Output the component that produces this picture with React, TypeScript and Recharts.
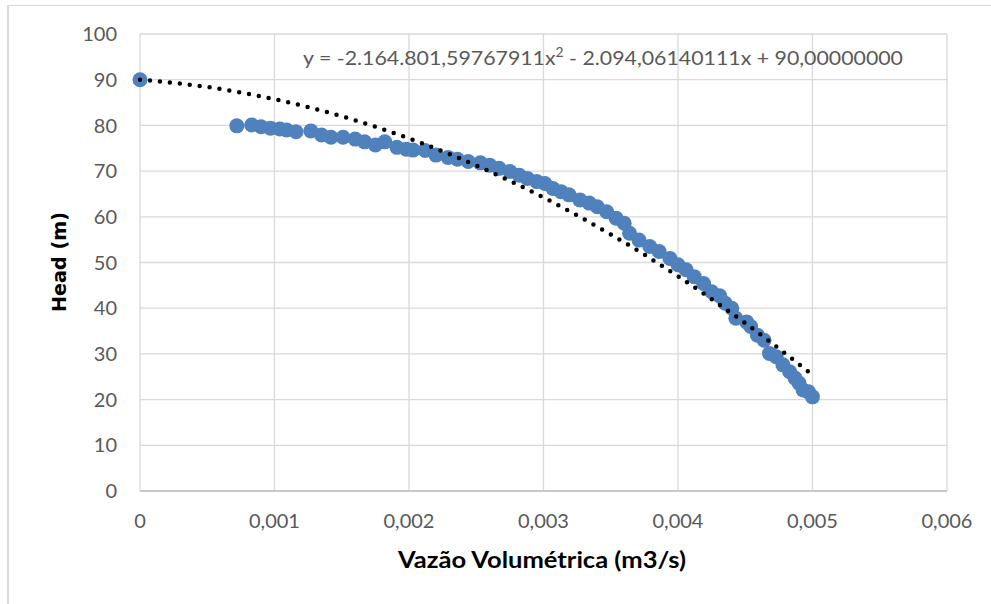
import { ScatterChart, Scatter, XAxis, YAxis, CartesianGrid } from 'recharts';

// measured points: flow (m3/s) and head (m)
const flowRates = [
    0, 0.00072, 0.00083, 0.0009, 0.00097, 0.00104, 0.00109, 0.00116, 0.00127, 0.00135,
    0.00142, 0.00151, 0.0016, 0.00167, 0.00175, 0.00182, 0.00191, 0.00198, 0.00203, 0.00212,
    0.0022, 0.00229, 0.00236, 0.00244, 0.00253, 0.0026, 0.00267, 0.00275, 0.00282, 0.00288,
    0.00295, 0.00301, 0.00307, 0.00313, 0.00319, 0.00327, 0.00334, 0.0034, 0.00347, 0.00354,
    0.0036, 0.00364, 0.00371, 0.00379, 0.00386, 0.00394, 0.004, 0.00406, 0.00412, 0.00419,
    0.00425, 0.00431, 0.00435, 0.0044, 0.00443, 0.00451, 0.00454, 0.00459, 0.00464, 0.00468,
    0.00473, 0.00478, 0.00483, 0.00487, 0.0049, 0.00493, 0.00497, 0.005,
];
const heads = [
    90, 79.9, 80.1, 79.7, 79.4, 79.2, 79.0, 78.6, 78.8, 77.9,
    77.4, 77.4, 77.0, 76.4, 75.7, 76.4, 75.2, 74.8, 74.6, 74.5,
    73.5, 73.0, 72.6, 72.1, 71.8, 71.3, 70.6, 69.9, 69.1, 68.4,
    67.7, 67.3, 66.2, 65.5, 64.8, 63.7, 63.0, 62.2, 61.1, 59.7,
    58.6, 56.4, 54.9, 53.5, 52.4, 50.9, 49.5, 48.4, 46.9, 45.4,
    43.6, 42.7, 41.1, 40.0, 37.8, 37.0, 36.0, 34.1, 33.0, 30.1,
    29.4, 27.6, 26.1, 24.7, 23.6, 22.1, 21.7, 20.6,
];

// polynomial trendline, values
const trendFlow = [0, 0.0005, 0.001, 0.0015, 0.002, 0.0025, 0.003, 0.0035, 0.004, 0.0045, 0.005];
const trendHead = [90, 88.41, 85.74, 81.99, 77.15, 71.23, 64.23, 56.15, 46.99, 36.74, 25.41];

const xTicks = [0, 0.001, 0.002, 0.003, 0.004, 0.005, 0.006];
const yTicks = [0, 10, 20, 30, 40, 50, 60, 70, 80, 90, 100];

const points = flowRates.map((x, i) => ({ x, y: heads[i] }));
const trend = trendFlow.map((x, i) => ({ x, y: trendHead[i] }));

const tickStyle = { fill: '#595959', fontSize: 20, fontFamily: 'Lato, sans-serif' };

export default function App() {
    return (
        <div style={{ position: 'absolute', left: 0, top: 0, width: 991, height: 604, background: '#fff' }}>
            <div
                style={{
                    position: 'absolute', left: 7, top: 5, width: 984, height: 599,
                    borderLeft: '2px solid #d9d9d9', borderTop: '1px solid #d9d9d9',
                }}
            />
            <ScatterChart width={991} height={604} margin={{ top: 34, right: 44, left: 80, bottom: 63 }}>
                <CartesianGrid stroke="#d9d9d9" strokeWidth={1.3} />
                <XAxis
                    type="number"
                    dataKey="x"
                    domain={[0, 0.006]}
                    ticks={xTicks}
                    height={50}
                    axisLine={{ stroke: '#bfbfbf', strokeWidth: 1.5 }}
                    tickLine={false}
                    tickSize={0}
                    tickMargin={23}
                    tick={tickStyle}
                    tickFormatter={(v: number) => (v === 0 ? '0' : v.toFixed(3).replace('.', ','))}
                />
                <YAxis
                    type="number"
                    dataKey="y"
                    domain={[0, 100]}
                    ticks={yTicks}
                    width={60}
                    axisLine={false}
                    tickLine={false}
                    tickSize={0}
                    tickMargin={23}
                    tick={tickStyle}
                />
                <Scatter
                    data={points}
                    isAnimationActive={false}
                    shape={(p: any) => <circle cx={p.cx} cy={p.cy} r={7.5} fill="#4F81BD" />}
                />
                <Scatter
                    data={trend}
                    isAnimationActive={false}
                    line={{ stroke: '#000', strokeWidth: 4.5, strokeDasharray: '0 10', strokeLinecap: 'round' }}
                    lineJointType="monotoneX"
                    shape={() => <g />}
                />
            </ScatterChart>
            <svg width={991} height={604} style={{ position: 'absolute', left: 0, top: 0, pointerEvents: 'none' }}>
                <text x={303} y={65} fill="#595959" fontSize={20} fontFamily="Lato, sans-serif" textLength={600} lengthAdjust="spacingAndGlyphs">
                    y = -2.164.801,59767911x<tspan dy={-8} fontSize={13}>2</tspan><tspan dy={8}> - 2.094,06140111x + 90,00000000</tspan>
                </text>
                <text x={542} y={568} textAnchor="middle" fill="#000" fontSize={23} fontWeight="bold" fontFamily="Lato, sans-serif" textLength={288} lengthAdjust="spacingAndGlyphs">
                    Vazão Volumétrica (m3/s)
                </text>
                <text
                    x={0}
                    y={0}
                    transform="translate(66 262) rotate(-90)"
                    textAnchor="middle"
                    fill="#000"
                    fontSize={19}
                    fontWeight="bold"
                    fontFamily="'DejaVu Sans', sans-serif"
                    textLength={100}
                    lengthAdjust="spacingAndGlyphs"
                >
                    Head (m)
                </text>
            </svg>
        </div>
    );
}
